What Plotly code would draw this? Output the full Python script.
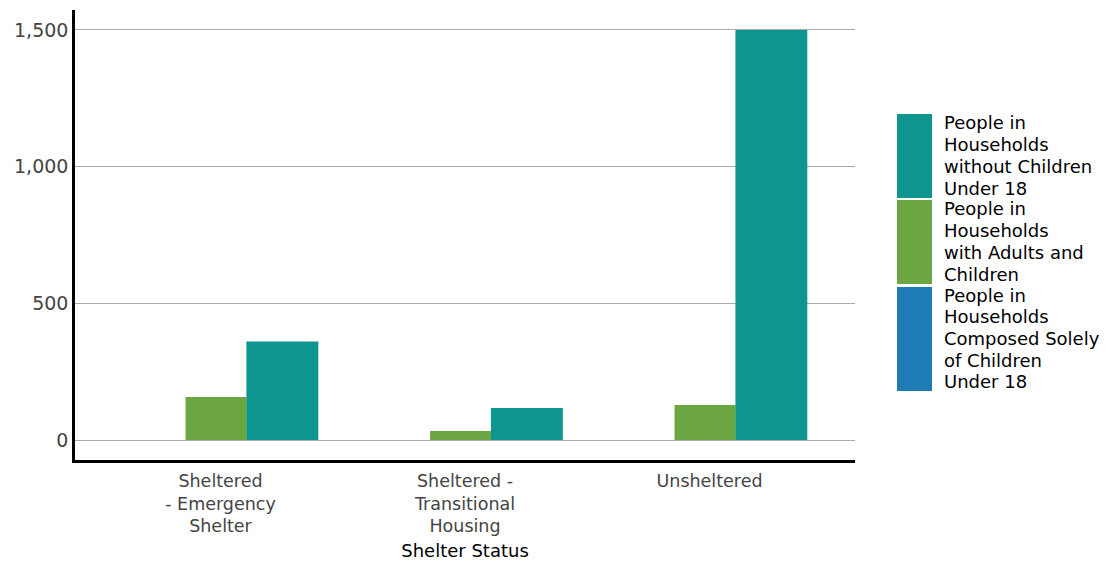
import plotly.graph_objects as go

categories = ["Sheltered<br>- Emergency<br>Shelter", "Sheltered -<br>Transitional<br>Housing", "Unsheltered"]
series_names = [
    "People in Households Composed Solely of Children Under 18",
    "People in Households with Adults and Children",
    "People in Households without Children Under 18",
]
children_only = [0, 0, 0]
adults_children = [157, 33, 128]
no_children = [360, 117, 1500]
legend_labels = [
    ["People in", "Households", "without Children", "Under 18"],
    ["People in", "Households", "with Adults and", "Children"],
    ["People in", "Households", "Composed Solely", "of Children", "Under 18"],
]
tick_vals = [0, 500, 1000, 1500]
tick_text = ["0", "500", "1,000", "1,500"]

colors = ["#1f7bb6", "#6ba643", "#0f9590"]
FONT = "DejaVu Sans"

W, H = 1110, 564
ML, MR, MT, MB = 67, 263, 2, 112
PW, PH = W - ML - MR, H - MT - MB
OFF = 8  # page body offset


def px_x(x):
    return (x - OFF - ML) / PW


def px_y(y):
    return (H - MB - (y - OFF)) / PH


fig = go.Figure()
x_idx = [0, 1, 2]
fig.add_trace(go.Bar(x=x_idx, y=children_only, name=series_names[0], marker_color=colors[0],
                     marker_line_width=0, offset=-0.393, width=0.25, showlegend=False))
fig.add_trace(go.Bar(x=x_idx, y=adults_children, name=series_names[1], marker_color=colors[1],
                     marker_line_width=0, offset=-0.143, width=0.25, showlegend=False))
fig.add_trace(go.Bar(x=x_idx, y=no_children, name=series_names[2], marker_color=colors[2],
                     marker_line_width=0, offset=0.106, width=0.294, showlegend=False))

fig.update_layout(
    width=W, height=H,
    margin=dict(l=ML, r=MR, t=MT, b=MB),
    plot_bgcolor="white", paper_bgcolor="white",
    font=dict(family=FONT, size=18, color="#444444"),
    barmode="overlay",
)
fig.update_xaxes(
    tickmode="array", tickvals=x_idx, ticktext=categories,
    range=[-0.595, 2.595],
    showline=True, linecolor="black", linewidth=2.5,
    showgrid=False, ticks="", zeroline=False,
    ticklabelstandoff=3,
    tickfont=dict(family=FONT, size=17.5, color="#444444"),
    title=dict(text="Shelter Status", font=dict(family=FONT, size=18, color="black"), standoff=10),
)
fig.update_yaxes(
    tickmode="array", tickvals=tick_vals, ticktext=tick_text,
    range=[-73, 1573],
    showline=True, linecolor="black", linewidth=2.5,
    showgrid=True, gridcolor="#aaaaaa", gridwidth=1,
    zeroline=False, ticks="", ticklen=0,
    tickfont=dict(family=FONT, size=19, color="#444444"),
)

# Manual legend (tall swatches as in the reference)
legend_colors = [colors[2], colors[1], colors[0]]
swatch_px = [(114, 198), (200, 284), (287, 391)]
first_line = [123, 209, 295]
line_step = 21.7
for (y0, y1), col, lines, fy in zip(swatch_px, legend_colors, legend_labels, first_line):
    fig.add_shape(type="rect", xref="paper", yref="paper",
                  x0=px_x(897), x1=px_x(932),
                  y0=px_y(y1), y1=px_y(y0),
                  fillcolor=col, line=dict(width=0))
    for k, line in enumerate(lines):
        fig.add_annotation(xref="paper", yref="paper",
                           x=px_x(942), y=px_y(fy + k * line_step),
                           xanchor="left", yanchor="middle", align="left",
                           text=line, showarrow=False,
                           font=dict(family=FONT, size=18, color="black"))

fig.write_html("out.html")
